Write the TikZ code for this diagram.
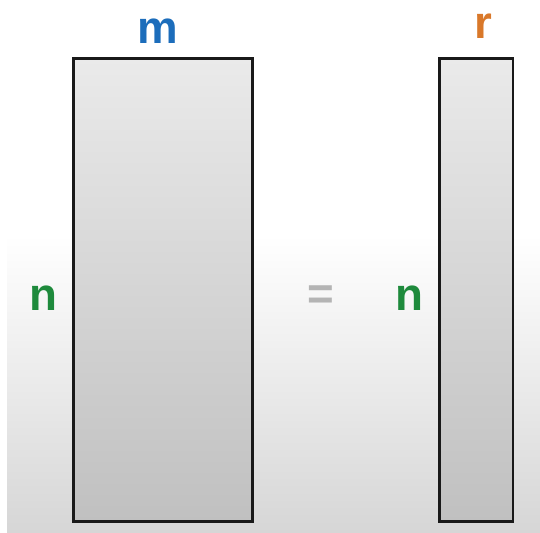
\documentclass[tikz,border=0pt]{standalone}
\usepackage{fontspec}
\setmainfont{Liberation Sans}
\usetikzlibrary{positioning}
\definecolor{dimblue}{HTML}{1C6DBB}
\definecolor{dimorange}{HTML}{D9782A}
\definecolor{dimgreen}{HTML}{1E8A3C}
\definecolor{eqgray}{HTML}{B4B4B4}
\definecolor{boxtop}{HTML}{EAEAEA}
\definecolor{boxmid}{HTML}{E3E3E3}
\definecolor{boxbot}{HTML}{C0C0C0}
\definecolor{bgbot}{HTML}{D6D6D6}

\begin{document}
\begin{tikzpicture}[x=0.02cm, y=-0.02cm,
      mat/.style={draw=black!90, line width=1.7pt, top color=boxtop, middle color=boxmid,
                  bottom color=boxbot, minimum height=9.28cm, inner sep=0pt},
      dim/.style={font=\fontsize{26}{26}\selectfont\bfseries, inner sep=0pt}]
    % backdrop: white above, grey fade below
    \useasboundingbox (0,0) rectangle (540,533);
    \fill[white] (0,0) rectangle (540,533);
    \shade[top color=white, bottom color=bgbot] (7,235) rectangle (540,533);
    \node[mat, minimum width=3.6cm] (A) at (163,290) {};
    \node[mat, minimum width=1.48cm] (Q) at (476,290) {};
    \node[dim, dimblue] (m) at (158,31) {m};
    \node[dim, dimorange] (r) at (483,26) {r};
    \node[dim, dimgreen] (nA) at (43,298) {n};
    \node[dim, dimgreen] (nQ) at (409,298) {n};
    \node[dim, eqgray] (eq) at (321,298) {=};
\end{tikzpicture}
\end{document}
